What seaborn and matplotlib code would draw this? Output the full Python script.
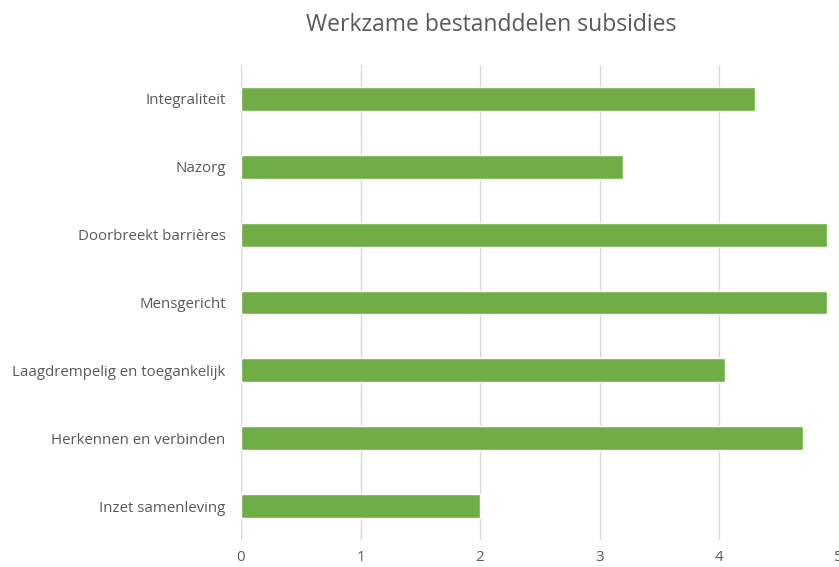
import matplotlib
matplotlib.use("Agg")
import matplotlib.pyplot as plt
import pandas as pd
import seaborn as sns

categories = [
    "Integraliteit",
    "Nazorg",
    "Doorbreekt barrières",
    "Mensgericht",
    "Laagdrempelig en toegankelijk",
    "Herkennen en verbinden",
    "Inzet samenleving",
]
scores = [4.3, 3.2, 4.9, 4.9, 4.05, 4.7, 2.0]
x_ticks = [0, 1, 2, 3, 4, 5]

BAR_COLOR = "#70AD47"
TEXT_COLOR = "#595959"
GRID_COLOR = "#D9D9D9"

sns.set_theme(style="white")
plt.rcParams["font.family"] = ["Open Sans", "DejaVu Sans"]

df = pd.DataFrame({"categorie": categories, "score": scores})

fig = plt.figure(figsize=(8.39, 5.67), dpi=100)
ax = fig.add_axes([241 / 839, 1 - 540 / 567, (838.5 - 241) / 839, (540 - 65) / 567])

sns.barplot(data=df, x="score", y="categorie", orient="h", color=BAR_COLOR,
            width=0.35, saturation=1, ax=ax, zorder=3)

ax.set_xlim(0, 5)
ax.set_ylim(6.5, -0.5)
ax.set_xticks(x_ticks)
ax.grid(axis="x", color=GRID_COLOR, linewidth=1, zorder=0)
ax.set_axisbelow(True)
for s in ax.spines.values():
    s.set_visible(False)
ax.tick_params(axis="both", length=0, labelsize=10.8, colors=TEXT_COLOR)
ax.tick_params(axis="x", pad=7)
ax.tick_params(axis="y", pad=11)
ax.set_xlabel("")
ax.set_ylabel("")

fig.text(491 / 839, 1 - 25 / 567, "Werkzame bestanddelen subsidies",
         ha="center", va="center", fontsize=16.5, color=TEXT_COLOR)

fig.savefig("out.png", dpi=100)
